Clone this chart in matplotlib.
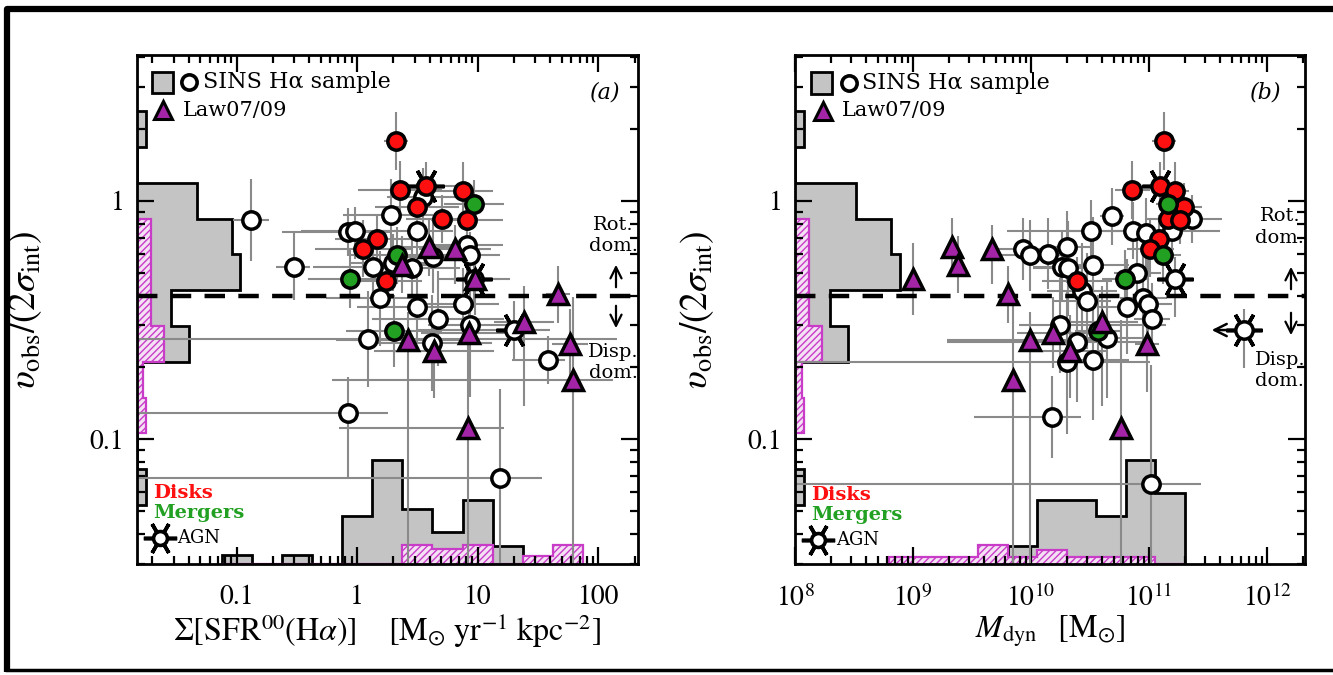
import numpy as np
import matplotlib
matplotlib.use("Agg")
import matplotlib.pyplot as plt
from matplotlib.transforms import blended_transform_factory as blend
from matplotlib.patches import Rectangle

# ------------------------------------------------------------------ data
# SINS disks (red) : shared v_obs/(2 sigma_int), Sigma_SFR, M_dyn
disk_v = [1.78, 1.11, 1.15, 1.10, 0.94, 0.84, 0.83, 0.69, 0.63, 0.46]
disk_v_err = [0.12, 0.12, 0.10, 0.12, 0.10, 0.10, 0.10, 0.10, 0.12, 0.10]
disk_sfr = [2.1, 2.27, 3.74, 7.6, 3.15, 5.07, 8.2, 1.47, 1.12, 1.74]
disk_sfr_err = [0.10, 0.35, 0.30, 0.25, 0.35, 0.30, 0.30, 0.35, 0.40, 0.30]
disk_mdyn = [1.34e11, 7.2e10, 1.24e11, 1.66e11, 1.98e11, 1.45e11, 1.83e11, 1.22e11, 1.02e11, 2.45e10]
disk_mdyn_err = [0.10, 0.15, 0.10, 0.12, 0.15, 0.20, 0.10, 0.15, 0.20, 0.30]
disk_agn = [False, False, True, False, False, False, False, False, False, False]

# SINS mergers (green)
merger_v = [0.97, 0.59, 0.47, 0.284]
merger_v_err = [0.10, 0.12, 0.12, 0.15]
merger_sfr = [9.35, 2.15, 0.875, 2.03]
merger_sfr_err = [0.25, 0.40, 0.35, 0.40]
merger_mdyn = [1.45e11, 1.32e11, 6.3e10, 3.7e10]
merger_mdyn_err = [0.10, 0.15, 0.20, 0.20]

# SINS AGN (open circles with AGN symbol)
agn_v = [0.47, 0.287]
agn_v_err = [0.12, 0.12]
agn_sfr = [9.3, 20.1]
agn_sfr_lo = [0.30, 0.80]
agn_sfr_hi = [0.30, 0.30]
agn_mdyn = [1.66e11, 6.4e11]
agn_mdyn_upper = [False, True]

# other SINS galaxies, panel (a)
sins_a_sfr = [0.132, 0.30, 0.84, 0.96, 1.91, 3.53, 3.15, 1.36, 1.99, 2.86, 4.27, 8.18,
              8.67, 1.55, 3.15, 4.7, 7.58, 1.23, 4.19, 8.67, 38.5, 0.84, 15.4]
sins_a_v = [0.83, 0.53, 0.74, 0.75, 0.87, 1.04, 0.75, 0.53, 0.55, 0.52, 0.58, 0.65,
            0.59, 0.39, 0.36, 0.32, 0.37, 0.263, 0.253, 0.30, 0.215, 0.129, 0.069]
sins_a_sfr_lo = [0.15, 0.15, 0.55, 0.45, 0.40, 0.30, 0.30, 0.50, 0.35, 0.40, 0.30, 0.30,
                 0.25, 0.45, 0.50, 0.55, 0.30, 1.95, 0.50, 0.35, 0.30, 1.90, 3.00]
sins_a_sfr_hi = [0.15, 0.13, 0.35, 0.35, 0.35, 0.30, 0.30, 0.40, 0.35, 0.40, 0.30, 0.30,
                 0.25, 0.40, 0.45, 0.55, 0.30, 2.07, 0.50, 0.35, 0.14, 0.33, 0.35]
sins_a_v_lo = [0.17, 0.14, 0.10, 0.12, 0.15, 0.12, 0.15, 0.15, 0.12, 0.12, 0.15, 0.12,
               0.10, 0.20, 0.15, 0.20, 0.15, 0.20, 0.20, 0.30, 0.10, 0.27, 1.00]
sins_a_v_hi = [0.17, 0.14, 0.10, 0.10, 0.15, 0.12, 0.12, 0.15, 0.12, 0.12, 0.15, 0.12,
               0.10, 0.20, 0.15, 0.20, 0.15, 0.20, 0.20, 0.30, 0.10, 0.15, 0.37]

# other SINS galaxies, panel (b)
sins_b_mdyn = [4.85e10, 3.22e10, 7.31e10, 9.44e10, 1.57e11, 2.31e11, 8.55e9, 9.77e9, 1.39e10,
               2.02e10, 1.83e10, 2.06e10, 3.35e10, 7.91e10, 2.70e10, 2.99e10, 6.52e10, 8.91e10,
               9.77e10, 1.06e11, 1.76e10, 4.41e10, 2.45e10, 2.02e10, 3.35e10, 1.51e10, 1.04e11]
sins_b_v = [0.86, 0.75, 0.75, 0.73, 0.75, 0.84, 0.63, 0.59, 0.60, 0.64, 0.53, 0.52, 0.54, 0.50,
            0.42, 0.38, 0.36, 0.39, 0.37, 0.32, 0.30, 0.265, 0.255, 0.21, 0.215, 0.124, 0.065]
sins_b_mdyn_lo = [0.10, 0.20, 0.15, 0.15, 1.40, 0.30, 0.30, 0.30, 0.20, 0.20, 0.25, 0.30, 0.30,
                  0.20, 0.30, 0.30, 0.25, 0.20, 0.20, 0.15, 0.35, 0.30, 1.10, 3.00, 0.30, 0.66, 4.00]
sins_b_mdyn_hi = [0.10, 0.20, 0.15, 0.20, 0.40, 0.25, 0.25, 0.30, 0.20, 0.20, 0.25, 0.30, 0.30,
                  0.20, 0.30, 0.20, 0.25, 0.20, 0.20, 0.15, 0.90, 0.30, 0.60, 0.70, 0.30, 0.24, 0.42]
sins_b_v_err = [0.12, 0.13, 0.12, 0.15, 0.12, 0.10, 0.13, 0.15, 0.15, 0.15, 0.15, 0.20, 0.20,
                0.15, 0.20, 0.20, 0.20, 0.20, 0.20, 0.15, 0.20, 0.25, 0.25, 0.30, 0.25, 0.17, 0.50]

# Law07/09 (purple triangles): shared v, Sigma_SFR, M_dyn
law_v = [0.64, 0.63, 0.54, 0.47, 0.405, 0.31, 0.28, 0.26, 0.235, 0.25, 0.177, 0.112]
law_v_lo = [0.12, 0.15, 0.12, 0.15, 0.12, 0.35, 0.15, 1.50, 0.20, 0.20, 1.50, 1.50]
law_v_hi = [0.12, 0.10, 0.12, 0.15, 0.12, 0.15, 0.15, 0.12, 0.15, 0.15, 0.35, 0.45]
law_sfr = [3.96, 6.5, 2.36, 9.5, 46.6, 24.3, 8.5, 2.65, 4.35, 58.6, 62.0, 8.34]
law_sfr_lo = [0.25, 0.30, 0.30, 0.20, 0.10, 0.25, 0.40, 0.60, 0.50, 0.15, 2.00, 1.07]
law_sfr_hi = [0.25, 0.30, 0.30, 0.20, 0.10, 0.25, 0.40, 0.50, 0.50, 0.15, 0.33, 0.30]
law_mdyn = [2.14e9, 4.67e9, 2.40e9, 1.0e9, 6.38e9, 4.0e10, 1.53e10, 9.77e9, 2.14e10, 9.6e10, 7.03e9, 5.79e10]
law_mdyn_err = [0.0, 0.0, 0.0, 0.0, 0.0, 0.30, 0.30, 0.70, 0.30, 0.10, 0.0, 0.0]

# histograms (counts in arbitrary units)
vhist_edges_log = [0.375, 0.225, 0.075, -0.075, -0.225, -0.375, -0.525, -0.675, -0.825, -0.975, -1.125, -1.275]
vhist_sins = [1, 0, 7, 11, 12, 4, 6, 0, 0, 0, 1]
vhist_law = [0, 0, 0, 1.6, 1.6, 1.6, 3.1, 0.75, 1.05, 0, 0]

sfrhist_edges_log = [-1.125, -0.875, -0.625, -0.375, -0.125, 0.125, 0.375, 0.625, 0.875, 1.125, 1.375, 1.625, 1.875]
sfrhist_sins = [1.05, 0, 1.05, 0, 5.5, 11.9, 6.3, 3.7, 7.3, 2.0, 0, 0]
sfrhist_law = [0, 0, 0, 0, 0, 0, 2.2, 1.75, 2.2, 0, 0.9, 2.2]

mdynhist_edges_log = [8.8, 9.05, 9.3, 9.55, 9.8, 10.05, 10.3, 10.55, 10.8, 11.05, 11.3]
mdynhist_sins = [0, 0, 0, 0, 2.0, 7.3, 7.3, 5.5, 11.9, 8.1]
mdynhist_law = [0.8, 0.8, 0.8, 2.2, 0.8, 1.6, 0.8, 0.8, 0.8, 0]

v_split = 0.4
sfr_ticks = [0.1, 1, 10, 100]
sfr_ticklabels = ["0.1", "1", "10", "100"]
mdyn_ticks = [1e8, 1e9, 1e10, 1e11, 1e12]
mdyn_ticklabels = [r"$10^{8}$", r"$10^{9}$", r"$10^{10}$", r"$10^{11}$", r"$10^{12}$"]
v_ticks = [0.1, 1]
v_ticklabels = ["0.1", "1"]

# ------------------------------------------------------------------ style
plt.rcParams["mathtext.fontset"] = "stix"
SERIF = "DejaVu Serif"
TICKF = "STIXGeneral"
W, H = 1333, 675
fig = plt.figure(figsize=(W / 100, H / 100), dpi=100)
fig.patch.set_facecolor("white")

boxes = {"a": (137, 638, 55, 564), "b": (795, 1305, 55, 564)}


def make_ax(key):
    l, r, t, b = boxes[key]
    return fig.add_axes([l / W, 1 - b / H, (r - l) / W, (b - t) / H])


def afr(key, px, py):
    l, r, t, b = boxes[key]
    return (px - l) / (r - l), (b - py) / (b - t)


axA = make_ax("a")
axB = make_ax("b")

GRAY_ERR = "#8a8a8a"
RED = "#ff1010"
GREEN = "#22a022"
PURPLE = "#a424a8"
MAG = "#c83cc8"
HUNIT = 0.0172
MS = 12.5
plt.rcParams["hatch.linewidth"] = 1.0


def err_lohi(vals, lo, hi):
    v = np.asarray(vals, float)
    return [v - v * 10 ** (-np.asarray(lo, float)), v * 10 ** np.asarray(hi, float) - v]


def errs(ax, x, y, xlo, xhi, ylo, yhi):
    ax.errorbar(x, y, xerr=err_lohi(x, xlo, xhi), yerr=err_lohi(y, ylo, yhi),
                fmt="none", ecolor=GRAY_ERR, elinewidth=1.5, capsize=0, zorder=2)


def marks(ax, x, y, marker, fc, ms, z=5):
    ax.plot(x, y, ls="none", marker=marker, ms=ms, mfc=fc, mec="black", mew=2.5, zorder=z)


def agn_star(ax, x, y, z=4):
    ax.plot(x, y, ls="none", marker=(6, 2, 30), ms=26, mec="black", mew=2.6, zorder=z)


def setup(ax, key, xlim, xticks, xlabels):
    ax.set_xscale("log")
    ax.set_yscale("log")
    ax.set_xlim(*xlim)
    ax.set_ylim(10 ** -1.523, 10 ** 0.611)
    ax.set_autoscale_on(False)
    ax.set_xticks(xticks, labels=xlabels)
    ax.set_yticks(v_ticks, labels=v_ticklabels)
    ax.xaxis.set_minor_locator(matplotlib.ticker.LogLocator(base=10, subs=np.arange(2, 10), numticks=30))
    ax.yaxis.set_minor_locator(matplotlib.ticker.LogLocator(base=10, subs=np.arange(2, 10), numticks=30))
    ax.xaxis.set_minor_formatter(matplotlib.ticker.NullFormatter())
    ax.yaxis.set_minor_formatter(matplotlib.ticker.NullFormatter())
    ax.tick_params(which="both", direction="in", top=True, right=True, width=1.6, color="black")
    ax.tick_params(which="major", length=12)
    ax.tick_params(axis="x", which="major", pad=15)
    ax.tick_params(axis="y", which="major", pad=9)
    ax.tick_params(which="minor", length=6)
    for lab in ax.get_xticklabels() + ax.get_yticklabels():
        lab.set_fontfamily(TICKF)
        lab.set_fontsize(20)
    for s in ax.spines.values():
        s.set_linewidth(2.0)
    ax.set_ylabel(r"$\upsilon_{\rm obs}/(2\sigma_{\rm int})$", fontsize=27)


def hists(ax, xedges_log, xs, xl):
    tl = blend(ax.transAxes, ax.transData)
    ve = 10 ** np.array(vhist_edges_log)[::-1]
    ax.stairs(np.array(vhist_sins[::-1]) * HUNIT, ve, orientation="horizontal", baseline=0,
              fill=True, transform=tl, facecolor="#c4c4c4", edgecolor="none", zorder=1)
    ax.stairs(np.array(vhist_sins[::-1]) * HUNIT, ve, orientation="horizontal", baseline=0,
              fill=False, transform=tl, edgecolor="black", lw=2.0, zorder=1.1)
    ax.stairs(np.array(vhist_law[::-1]) * HUNIT, ve, orientation="horizontal", baseline=0,
              fill=True, transform=tl, facecolor="#f4e2f4", edgecolor=MAG, hatch="/////",
              lw=1.6, zorder=1.2)
    tb = blend(ax.transData, ax.transAxes)
    xe = 10 ** np.array(xedges_log)
    ax.stairs(np.array(xs) * HUNIT, xe, baseline=0, fill=True, transform=tb,
              facecolor="#c4c4c4", edgecolor="none", zorder=1)
    ax.stairs(np.array(xs) * HUNIT, xe, baseline=0, fill=False, transform=tb,
              edgecolor="black", lw=2.0, zorder=1.1)
    ax.stairs(np.array(xl) * HUNIT, xe, baseline=0, fill=True, transform=tb,
              facecolor="#f4e2f4", edgecolor=MAG, hatch="/////", lw=1.6, zorder=1.2)


setup(axA, "a", (10 ** -1.826, 10 ** 2.33), sfr_ticks, sfr_ticklabels)
setup(axB, "b", (1e8, 10 ** 12.32), mdyn_ticks, mdyn_ticklabels)
hists(axA, sfrhist_edges_log, sfrhist_sins, sfrhist_law)
hists(axB, mdynhist_edges_log, mdynhist_sins, mdynhist_law)

zeros = lambda n: [0.0] * n

for ax in (axA, axB):
    ax.axhline(v_split, color="black", lw=3.2, dashes=(4.6, 3.0), zorder=3)

# ---- panel (a) points
errs(axA, sins_a_sfr, sins_a_v, sins_a_sfr_lo, sins_a_sfr_hi, sins_a_v_lo, sins_a_v_hi)
errs(axA, disk_sfr, disk_v, disk_sfr_err, disk_sfr_err, disk_v_err, disk_v_err)
errs(axA, merger_sfr, merger_v, merger_sfr_err, merger_sfr_err, merger_v_err, merger_v_err)
errs(axA, agn_sfr, agn_v, agn_sfr_lo, agn_sfr_hi, agn_v_err, agn_v_err)
errs(axA, law_sfr, law_v, law_sfr_lo, law_sfr_hi, law_v_lo, law_v_hi)

# ---- panel (b) points
errs(axB, sins_b_mdyn, sins_b_v, sins_b_mdyn_lo, sins_b_mdyn_hi, sins_b_v_err, sins_b_v_err)
errs(axB, disk_mdyn, disk_v, disk_mdyn_err, disk_mdyn_err, disk_v_err, disk_v_err)
errs(axB, merger_mdyn, merger_v, merger_mdyn_err, merger_mdyn_err, merger_v_err, merger_v_err)
errs(axB, agn_mdyn, agn_v, zeros(2), zeros(2), [0.16, 0.16], [0.09, 0.09])
errs(axB, law_mdyn, law_v, law_mdyn_err, law_mdyn_err, law_v_lo, law_v_hi)

for ax, xs_sins, ys_sins, xd, xm, xa, xl in (
        (axA, sins_a_sfr, sins_a_v, disk_sfr, merger_sfr, agn_sfr, law_sfr),
        (axB, sins_b_mdyn, sins_b_v, disk_mdyn, merger_mdyn, agn_mdyn, law_mdyn)):
    agn_star(ax, xa, agn_v)
    agn_star(ax, [x for x, f in zip(xd, disk_agn) if f], [v for v, f in zip(disk_v, disk_agn) if f])
    marks(ax, xs_sins, ys_sins, "o", "white", MS)
    marks(ax, xa, agn_v, "o", "white", MS)
    marks(ax, xd, disk_v, "o", RED, MS)
    marks(ax, xm, merger_v, "o", GREEN, MS)
    marks(ax, xl, law_v, "^", PURPLE, 14, z=6)

# upper-limit arrow on M_dyn of the AGN in panel (b)
for x, v, up in zip(agn_mdyn, agn_v, agn_mdyn_upper):
    if up:
        axB.annotate("", xy=(x * 10 ** -0.30, v), xytext=(x * 10 ** -0.07, v),
                     arrowprops=dict(arrowstyle="->", lw=1.8, color="black", mutation_scale=22),
                     zorder=7)

# ---- axis labels
axA.set_xlabel(r"$\Sigma[{\rm SFR}^{00}({\rm H}\alpha)]$   $[{\rm M}_{\odot}\ {\rm yr}^{-1}\ {\rm kpc}^{-2}]$",
               fontsize=23, labelpad=1)
axB.set_xlabel(r"$M_{\rm dyn}$  $[{\rm M}_{\odot}]$", fontsize=23, labelpad=1)

# ---- annotations / legends
for ax, key, lab, cfg in (
        (axA, "a", "(a)", dict(sq=(152, 173, 72, 93), circ=(189, 82), t1=203, tri=(163, 110), t2=183,
                               lab=(605, 93), rot=(613, 225, 246), arr=(616, 290, 262, 303, 331),
                               disp=(613, 352, 373), dk=(153, 493, 513), agn=(160, 538, 177))),
        (axB, "b", "(b)", dict(sq=(811, 832, 72, 94), circ=(849, 83), t1=862, tri=(823, 111), t2=842,
                               lab=(1266, 93), rot=(1280, 216, 238), arr=(1291, 292, 264, 310, 338),
                               disp=(1280, 360, 381), dk=(811, 495, 515), agn=(818, 540, 836)))):
    x0, y0 = afr(key, cfg["sq"][0], cfg["sq"][3])
    x1, y1 = afr(key, cfg["sq"][1], cfg["sq"][2])
    ax.add_patch(Rectangle((x0, y0), x1 - x0, y1 - y0, transform=ax.transAxes,
                           facecolor="#c4c4c4", edgecolor="black", lw=2.0, zorder=8))
    cx, cy = afr(key, *cfg["circ"])
    ax.plot([cx], [cy], transform=ax.transAxes, marker="o", ms=11, mfc="white", mec="black",
            mew=2.6, zorder=8, clip_on=False)
    tx, ty = afr(key, cfg["t1"], cfg["circ"][1])
    ax.text(tx, ty, "SINS H\u03b1 sample", transform=ax.transAxes, fontsize=16, family=SERIF,
            va="center", ha="left", zorder=8)
    px_, py_ = afr(key, *cfg["tri"])
    ax.plot([px_], [py_], transform=ax.transAxes, marker="^", ms=13, mfc=PURPLE, mec="black",
            mew=2.2, zorder=8)
    tx, ty = afr(key, cfg["t2"], cfg["tri"][1])
    ax.text(tx, ty, "Law07/09", transform=ax.transAxes, fontsize=15, family=SERIF,
            va="center", ha="left", zorder=8)
    lx, ly = afr(key, *cfg["lab"])
    ax.text(lx, ly, lab, transform=ax.transAxes, fontsize=16, family=SERIF, style="italic",
            va="center", ha="center", zorder=8)
    rx, ry1 = afr(key, cfg["rot"][0], cfg["rot"][1])
    _, ry2 = afr(key, cfg["rot"][0], cfg["rot"][2])
    ax.text(rx, ry1, "Rot.", transform=ax.transAxes, fontsize=14, family=SERIF, va="center", ha="center")
    ax.text(rx, ry2, "dom.", transform=ax.transAxes, fontsize=14, family=SERIF, va="center", ha="center")
    ax_, a1 = afr(key, cfg["arr"][0], cfg["arr"][1])
    _, a2 = afr(key, cfg["arr"][0], cfg["arr"][2])
    _, a3 = afr(key, cfg["arr"][0], cfg["arr"][3])
    _, a4 = afr(key, cfg["arr"][0], cfg["arr"][4])
    ax.annotate("", xy=(ax_, a2), xytext=(ax_, a1), xycoords=ax.transAxes, textcoords=ax.transAxes,
                arrowprops=dict(arrowstyle="->", lw=1.6, color="black", mutation_scale=20))
    ax.annotate("", xy=(ax_, a4), xytext=(ax_, a3), xycoords=ax.transAxes, textcoords=ax.transAxes,
                arrowprops=dict(arrowstyle="->", lw=1.6, color="black", mutation_scale=20))
    dx, dy1 = afr(key, cfg["disp"][0], cfg["disp"][1])
    _, dy2 = afr(key, cfg["disp"][0], cfg["disp"][2])
    ax.text(dx, dy1, "Disp.", transform=ax.transAxes, fontsize=14, family=SERIF, va="center", ha="center")
    ax.text(dx, dy2, "dom.", transform=ax.transAxes, fontsize=14, family=SERIF, va="center", ha="center")
    kx, ky1 = afr(key, cfg["dk"][0], cfg["dk"][1])
    _, ky2 = afr(key, cfg["dk"][0], cfg["dk"][2])
    ax.text(kx, ky1, "Disks", transform=ax.transAxes, fontsize=14, family=SERIF, color=RED,
            weight="bold", va="center", ha="left", zorder=8)
    ax.text(kx, ky2, "Mergers", transform=ax.transAxes, fontsize=14, family=SERIF, color=GREEN,
            weight="bold", va="center", ha="left", zorder=8)
    gx, gy = afr(key, cfg["agn"][0], cfg["agn"][1])
    ax.plot([gx], [gy], transform=ax.transAxes, marker=(6, 2, 30), ms=24, mec="black", mew=2.6, zorder=8)
    ax.plot([gx], [gy], transform=ax.transAxes, marker="o", ms=10, mfc="white", mec="black", mew=2.6, zorder=8)
    gtx, _ = afr(key, cfg["agn"][2], cfg["agn"][1])
    ax.text(gtx, gy, "AGN", transform=ax.transAxes, fontsize=13, family=SERIF, va="center", ha="left", zorder=8)

axA.yaxis.set_label_coords(afr("a", 44, 0)[0], 0.5)
axB.yaxis.set_label_coords(afr("b", 716, 0)[0], 0.5)

# screenshot frame
frame = fig.add_axes([0, 0, 1, 1], facecolor="none")
frame.set_xlim(0, W)
frame.set_ylim(H, 0)
frame.axis("off")
frame.plot([7, 7, 1333], [672, 9, 9], color="black", lw=4.5, solid_capstyle="butt")
frame.plot([7, 1333], [670, 670], color="black", lw=2.5)

fig.savefig("out.png", dpi=100)
